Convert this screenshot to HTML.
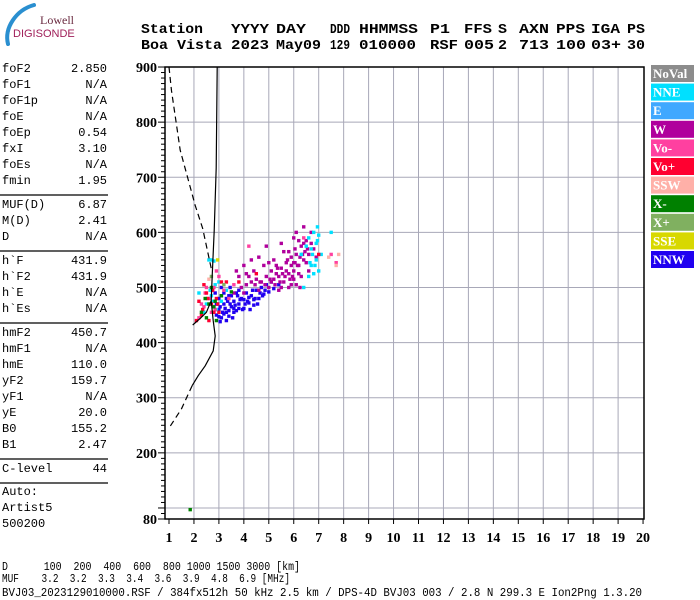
<!DOCTYPE html>
<html><head><meta charset="utf-8"><style>
html,body{margin:0;padding:0;background:#fff;}
svg{display:block;}
.mono{font-family:"Liberation Mono",monospace;font-size:12px;fill:#000;}
.hdr{font-family:"Liberation Mono",monospace;font-size:14px;font-weight:bold;fill:#000;}
.ax{font-family:"Liberation Serif",serif;font-size:14px;font-weight:bold;fill:#000;}
.leg{font-family:"Liberation Serif",serif;font-size:13px;font-weight:bold;fill:#fff;}
</style></head><body>
<svg id="s" width="700" height="600" viewBox="0 0 700 600" xmlns="http://www.w3.org/2000/svg">
<g>
<path d="M8,44 C4,28 16,10 34,5" stroke="#2a8fd0" stroke-width="4" fill="none" stroke-linecap="round"/>
<text x="40" y="24" font-family="Liberation Serif,serif" font-size="12" fill="#6a2a40">Lowell</text>
<text x="13" y="37" font-family="Liberation Sans,sans-serif" font-size="11" fill="#a0205a">DIGISONDE</text>
</g>
<g id="hdr"></g>
<g id="left"></g>
<g id="plot"></g>
<g id="legend"></g>
<g>
<text class="mono" x="2" y="570" textLength="298" lengthAdjust="spacingAndGlyphs" xml:space="preserve">D      100  200  400  600  800 1000 1500 3000 [km]</text>
<text class="mono" x="2" y="582" textLength="288" lengthAdjust="spacingAndGlyphs" xml:space="preserve">MUF    3.2  3.2  3.3  3.4  3.6  3.9  4.8  6.9 [MHz]</text>
<text class="mono" x="2" y="596" textLength="640" lengthAdjust="spacingAndGlyphs">BVJ03_2023129010000.RSF / 384fx512h 50 kHz 2.5 km / DPS-4D BVJ03 003 / 2.8 N 299.3 E  Ion2Png 1.3.20</text>
</g>
</svg>
<script>
const NS='http://www.w3.org/2000/svg';
function mk(tag,attrs,parent,txt){const e=document.createElementNS(NS,tag);for(const k in attrs)e.setAttribute(k,attrs[k]);if(txt!==undefined)e.textContent=txt;parent.appendChild(e);return e;}

// ---- data ----
const hdrLabels=['Station','YYYY','DAY','DDD','HHMMSS','P1','FFS','S','AXN','PPS','IGA','PS'];
const hdrValues=['Boa Vista','2023','May09','129','010000','RSF','005','2','713','100','03+','30'];
const paramNames=['foF2','foF1','foF1p','foE','foEp','fxI','foEs','fmin','|','MUF(D)','M(D)','D','|','h`F','h`F2','h`E','h`Es','|','hmF2','hmF1','hmE','yF2','yF1','yE','B0','B1','|','C-level','|'];
const paramValues=['2.850','N/A','N/A','N/A','0.54','3.10','N/A','1.95','','6.87','2.41','N/A','','431.9','431.9','N/A','N/A','','450.7','N/A','110.0','159.7','N/A','20.0','155.2','2.47','','44',''];
const autoLines=['Auto:','Artist5','500200'];
const freqTicks=[1,2,3,4,5,6,7,8,9,10,11,12,13,14,15,16,17,18,19,20];
const heightTicks=[80,200,300,400,500,600,700,800,900];
const gridHeights=[100,200,300,400,500,600,700,800];
const legendNames=['NoVal','NNE','E','W','Vo-','Vo+','SSW','X-','X+','SSE','NNW'];
const legendColors=['#8c8c8c','#00e0ff','#40a8ff','#b0009c','#ff40a0','#ff0030','#ffb0a8','#008000','#80b060','#d8d800','#2000f0'];
// traces (freq MHz, height km)
const traceSolidF=[2.93,2.89,2.81,2.73,2.69,2.77,2.85,2.77,2.45,2.17,1.93];
const traceSolidH=[900,717,603,521,476,440,412,385,358,340,322];
const traceShortF=[1.95,2.25,2.5,2.69];
const traceShortH=[432,444,455,476];
const traceDashF=[1.0,1.1,1.45,2.05,2.35,2.69];
const traceDashH=[900,857,749,649,607,535];
const traceDashLowF=[1.93,1.5,1.0];
const traceDashLowH=[322,280,245];
// scatter echoes: freq, height, legend index
const echoF=[2.9,3.0,3.1,3.2,3.3,3.4,3.5,3.6,3.7,3.8,3.9,4.0,4.1,4.2,4.3,4.4,4.5,4.6,4.7,4.8,4.9,5.0,5.2,5.4,3.0,3.2,3.4,3.6,3.8,4.0,2.95,3.15,3.35,3.55,3.75,3.95,4.15,4.35,4.55,4.75,3.1,3.3,3.45,2.85,3.05,4.25,4.65,5.1,
3.05,3.25,3.45,3.65,3.85,4.05,4.45,4.85,3.0,3.2,3.4,3.6,3.8,4.2,4.4,3.1,3.3,3.5,3.7,2.9,
3.6,3.9,4.1,4.3,4.5,4.7,4.9,5.0,5.1,5.2,5.3,5.4,5.5,5.6,5.7,5.8,5.9,6.0,6.1,6.2,6.3,6.4,6.5,6.6,6.7,6.8,5.5,5.8,6.1,6.3,5.2,5.0,4.8,4.6,4.4,4.2,4.0,3.8,5.6,6.0,6.4,6.0,5.4,4.6,4.0,6.6,6.2,5.9,5.3,5.7,6.9,4.9,5.5,4.3,3.7,6.5,6.7,6.1,5.1,4.1,
5.65,5.85,6.05,6.25,6.45,5.45,5.25,5.75,5.95,6.15,6.35,6.55,5.35,5.55,6.25,5.05,4.85,4.65,4.45,6.05,5.9,6.2,5.8,6.0,6.4,
2.5,2.7,2.9,3.1,2.6,2.7,2.8,3.3,6.3,6.5,6.6,6.7,6.8,6.9,7.0,6.9,6.8,6.6,7.1,7.5,6.4,6.7,7.0,2.4,3.0,6.95,2.2,2.85,6.75,6.85,6.95,6.65,2.65,2.75,
2.2,2.4,2.6,2.8,3.0,3.2,2.5,2.7,3.4,7.5,7.7,6.4,2.3,2.9,3.6,4.2,2.45,2.65,2.85,
2.1,2.3,2.5,2.7,2.9,3.1,2.6,2.8,3.3,3.8,4.5,2.4,7.0,2.2,3.0,2.35,2.55,2.75,2.95,
7.8,7.7,7.4,2.6,
2.3,2.5,2.7,2.9,3.1,2.6,2.8,3.5,1.85,2.45,2.85,
2.7,3.2,2.95];
const echoH=[450,460,445,470,455,448,465,475,458,470,480,462,490,472,485,468,495,480,500,488,505,492,498,505,480,490,485,455,495,478,470,455,475,445,485,460,475,495,470,485,500,440,500,490,438,460,490,510,
465,462,470,468,478,470,480,495,447,452,458,462,462,482,478,485,480,485,490,470,
490,500,505,510,515,510,520,500,530,515,540,520,535,510,545,525,555,530,560,540,575,550,585,560,600,570,500,500,505,520,550,545,540,555,530,520,540,520,565,590,610,515,495,495,490,530,525,540,525,530,555,575,580,550,530,545,580,600,510,525,
520,515,545,555,565,510,505,550,520,540,560,570,535,525,500,515,505,510,505,570,505,585,565,545,580,
470,485,460,475,550,550,548,495,560,575,590,570,600,580,595,550,525,520,560,600,500,540,530,455,510,610,490,505,560,540,585,545,495,475,
445,465,480,500,520,495,500,455,480,560,545,590,470,530,505,575,490,470,460,
440,450,490,470,480,510,440,455,510,510,525,505,560,475,455,460,480,495,470,
560,540,555,515,
455,445,500,440,485,470,465,492,97,480,475,
520,505,550];
const echoC=[10,10,10,10,10,10,10,10,10,10,10,10,10,10,10,10,10,10,10,10,10,10,10,10,10,10,10,10,10,10,10,10,10,10,10,10,10,10,10,10,10,10,10,10,10,10,10,10,
10,10,10,10,10,10,10,10,10,10,10,10,10,10,10,10,10,10,10,10,
3,3,3,3,3,3,3,3,3,3,3,3,3,3,3,3,3,3,3,3,3,3,3,3,3,3,3,3,3,3,3,3,3,3,3,3,3,3,3,3,3,3,3,3,3,3,3,3,3,3,3,3,3,3,3,3,3,3,3,3,
3,3,3,3,3,3,3,3,3,3,3,3,3,3,3,3,3,3,3,3,3,3,3,3,3,
1,1,1,1,1,1,1,1,1,1,1,1,1,1,1,1,1,1,1,1,1,1,1,1,1,1,1,1,1,1,1,1,1,1,
4,4,4,4,4,4,4,4,4,4,4,4,4,4,4,4,4,4,4,
5,5,5,5,5,5,5,5,5,5,5,5,5,5,5,5,5,5,5,
6,6,6,6,
7,7,7,7,7,7,7,7,7,7,7,
8,8,9];

// ---- axes ----
const X0=169, XPF=24.95, Y0=519, YPK=0.5512;
function xs(f){return X0+(f-1)*XPF;}
function ys(h){return Y0-(h-80)*YPK;}

// header
const hdr=document.getElementById('hdr');
const hdrX=[141,231,276,330,359,430,464,498,519,556,591,627];
const hdrW1=[62,38,30,20,59,20,28,9,30,29,29,18];
const hdrW2=[81,38,45,20,57,28,30,9,30,30,30,18];
hdrLabels.forEach((t,i)=>{const e=mk('text',{class:'hdr',x:hdrX[i],y:33,textLength:hdrW1[i],lengthAdjust:'spacingAndGlyphs'},hdr,t);

});
hdrValues.forEach((t,i)=>{const e=mk('text',{class:'hdr',x:hdrX[i],y:49,textLength:hdrW2[i],lengthAdjust:'spacingAndGlyphs'},hdr,t);

});

// left panel
const left=document.getElementById('left');
let yy=72;
paramNames.forEach((n,i)=>{
  if(n==='|'){const l=mk('line',{x1:0,x2:108,y1:yy-5,y2:yy-5,stroke:'#000','stroke-width':1.2},left);
    
    
    yy+=8;return;}
  const a=mk('text',{class:'mono',x:2,y:yy},left,n);
  
  
  const b=mk('text',{class:'mono',x:107,y:yy,'text-anchor':'end'},left,paramValues[i]);
  
  
  yy+=16;
});
autoLines.forEach((t,i)=>{const e=mk('text',{class:'mono',x:2,y:495+i*16},left,t);

});

// plot
const plot=document.getElementById('plot');
const xL=165,xR=644,yT=ys(900),yB=Y0;
gridHeights.forEach(h=>{const l=mk('line',{x1:xL,x2:xR,y1:ys(h),y2:ys(h),stroke:'#a8a8b8','stroke-width':1},plot);

});
freqTicks.forEach(f=>{if(f>1&&f<20){const l=mk('line',{x1:xs(f),x2:xs(f),y1:yT,y2:yB,stroke:'#a8a8b8','stroke-width':1},plot);

}});
for(let h=80;h<=900;h+=10){const maj=(h%100===0)||h===80;const l=mk('line',{x1:xL-(maj?7:4),x2:xL,y1:ys(h),y2:ys(h),stroke:'#000','stroke-width':1},plot);

}
heightTicks.forEach(h=>{const t=mk('text',{class:'ax',x:157,y:ys(h)+5,'text-anchor':'end'},plot,String(h));

});
freqTicks.forEach(f=>{const l=mk('line',{x1:xs(f),x2:xs(f),y1:yB,y2:yB+5,stroke:'#000','stroke-width':1},plot);


const t=mk('text',{class:'ax',x:xs(f),y:542,'text-anchor':'middle'},plot,String(f));

});
const fr=mk('path',{d:`M${xL},${yT} H${xR} V${yB} H${xL} Z`,fill:'none',stroke:'#000','stroke-width':1.5},plot);



// echoes
echoF.forEach((f,i)=>{const r=mk('rect',{x:xs(f)-1.7,y:ys(echoH[i])-1.7,width:3.4,height:3.4,fill:legendColors[echoC[i]]},plot);

});

function pathOf(F,H){return F.map((f,i)=>(i?'L':'M')+xs(f).toFixed(1)+','+ys(H[i]).toFixed(1)).join(' ');}
const p1=mk('path',{d:pathOf(traceSolidF,traceSolidH),fill:'none',stroke:'#000','stroke-width':1.2},plot);


const p2=mk('path',{d:pathOf(traceShortF,traceShortH),fill:'none',stroke:'#000','stroke-width':1.2},plot);


const p3=mk('path',{d:pathOf(traceDashF,traceDashH),fill:'none',stroke:'#000','stroke-width':1.2,'stroke-dasharray':'6,4'},plot);


const p4=mk('path',{d:pathOf(traceDashLowF,traceDashLowH),fill:'none',stroke:'#000','stroke-width':1.2,'stroke-dasharray':'6,4'},plot);



// legend
const lg=document.getElementById('legend');
legendNames.forEach((n,i)=>{const y=65+i*18.6;
const r=mk('rect',{x:651,y:y,width:43,height:17,fill:legendColors[i]},lg);


const t=mk('text',{class:'leg',x:653,y:y+13},lg,n);

});
</script>
</body></html>
